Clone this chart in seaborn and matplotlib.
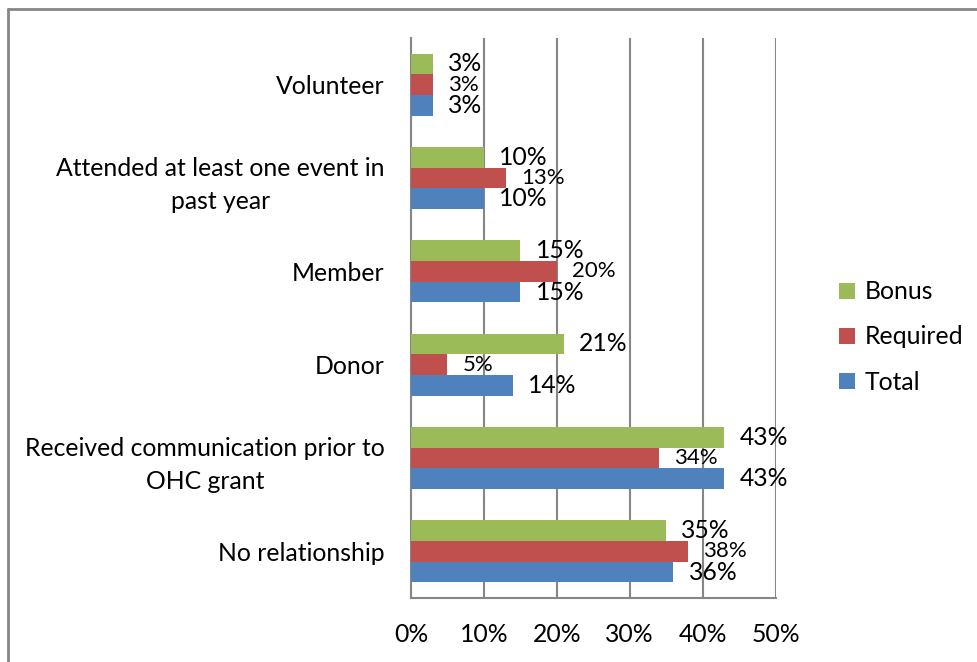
import pandas as pd
import seaborn as sns
import matplotlib.pyplot as plt
from matplotlib.lines import Line2D
from matplotlib.patches import Patch

# values (percent)
categories = ["Volunteer", "Attended at least one event in\npast year", "Member",
              "Donor", "Received communication prior to\nOHC grant", "No relationship"]
bonus = [3, 10, 15, 21, 43, 35]
required = [3, 13, 20, 5, 34, 38]
total = [3, 10, 15, 14, 43, 36]
series = ["Bonus", "Required", "Total"]
xticks = [0, 10, 20, 30, 40, 50]

colors = {"Bonus": "#9BBB59", "Required": "#C0504D", "Total": "#4F81BD"}
grey = "#868686"

sns.set_style("white")
plt.rcParams['font.family'] = ['Lato', 'DejaVu Sans']
plt.rcParams['text.color'] = 'black'
plt.rcParams['xtick.color'] = 'black'
plt.rcParams['ytick.color'] = 'black'
fs = 17.8

df = pd.DataFrame({"Category": categories, "Bonus": bonus, "Required": required, "Total": total})
df_melted = df.melt(id_vars="Category", var_name="Series", value_name="Value")

fig = plt.figure(figsize=(9.77, 6.62), dpi=100)
ax = fig.add_axes([411 / 977, 1 - 598 / 662, 364.5 / 977, 560 / 662])

sns.barplot(data=df_melted, y="Category", x="Value", hue="Series", hue_order=series,
            palette=colors, saturation=1, orient="h", width=0.667, gap=0, legend=False,
            ax=ax, edgecolor="none", zorder=3)

# data labels (Required ones are smaller in the original)
for cont, name in zip(ax.containers, series):
    vals = df[name].tolist()
    ax.bar_label(cont, labels=[f"{v}%" for v in vals], padding=11, color="black",
                 fontsize=fs if name != "Required" else fs * 0.9)

ax.set_xlim(0, 50)
ax.set_ylim(5.5, -0.5)
ax.set_xticks(xticks)
ax.set_xticklabels([f"{t}%" for t in xticks], fontsize=fs)
ax.set_yticks(range(len(categories)))
ax.set_yticklabels(categories, fontsize=fs, multialignment="center", linespacing=1.55)
ax.set_yticks([i - 0.5 for i in range(len(categories) + 1)], minor=True)
ax.tick_params(axis="y", which="major", length=0, pad=19)
ax.tick_params(axis="y", which="minor", length=6, width=1.5, color=grey)
ax.tick_params(axis="x", length=6, width=1.5, color=grey, labelcolor="black", pad=12)
ax.set_xlabel("")
ax.set_ylabel("")
ax.grid(axis="x", color=grey, linewidth=1.5, zorder=0)
ax.set_axisbelow(True)
for s in ["top", "right"]:
    ax.spines[s].set_visible(False)
for s in ["left", "bottom"]:
    ax.spines[s].set_color(grey)
    ax.spines[s].set_linewidth(1.5)

handles = [Patch(facecolor=colors[n], edgecolor="none") for n in series]
fig.legend(handles, series, loc="center left", bbox_to_anchor=(817 / 977, 1 - 337 / 662),
           frameon=False, fontsize=fs, handlelength=0.62, handleheight=0.62,
           handletextpad=0.4, labelspacing=0.9)

# chart frame (top and left edges only are visible)
fig.add_artist(Line2D([7.5 / 977, 7.5 / 977], [0, 1 - 9 / 662], color=grey, lw=2))
fig.add_artist(Line2D([7.5 / 977, 1], [1 - 9 / 662, 1 - 9 / 662], color=grey, lw=2))

fig.savefig("out.png", dpi=100)
